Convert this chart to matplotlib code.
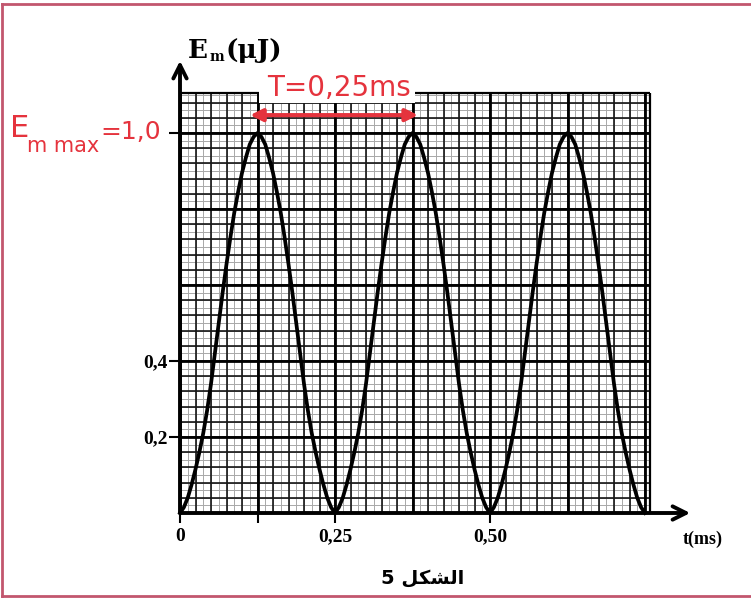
import numpy as np
import matplotlib.pyplot as plt
from matplotlib.patches import Rectangle
from matplotlib.lines import Line2D

# valeurs : une montee de 0 a Em max (pas de 0,00625 ms)
em_montee = [0.00, 0.015, 0.04, 0.075, 0.115, 0.16, 0.21, 0.27, 0.34, 0.42, 0.50,
             0.58, 0.655, 0.725, 0.79, 0.845, 0.895, 0.935, 0.97, 0.99, 1.00]
em_periode = em_montee + em_montee[-2::-1]
em = em_periode[:-1] * 3 + [0.0]
t = [i * 0.00625 for i in range(len(em))]

xticks = [0, 0.125, 0.25, 0.5]
xlabels = ['0', '', '0,25', '0,50']
yticks = [0.2, 0.4, 1.0]
ylabels = ['0,2', '0,4', '']

rouge = '#e5333d'
W, H = 751, 600

def px(x, y):
    return x / W, 1 - y / H

fig = plt.figure(figsize=(W / 100, H / 100), dpi=100)
ax = fig.add_axes([180 / W, 87 / H, 520 / W, 458 / H])
ax.set_xlim(0, 520 / 620)
ax.set_ylim(0, 458 / 380)
for s in ax.spines.values():
    s.set_visible(False)

# papier millimetre
xmax, ymax = 0.758, 1.105
ax.vlines(np.arange(0, xmax, 0.0125), 0, ymax, color='#a8a8a8', lw=0.7, zorder=1)
ax.hlines(np.arange(0, ymax, 0.02), 0, xmax, color='#a8a8a8', lw=0.7, zorder=1)
ax.vlines(np.arange(0, xmax, 0.025), 0, ymax, color='#151515', lw=1.2, zorder=1)
ax.hlines(np.arange(0, ymax, 0.04), 0, xmax, color='#151515', lw=1.2, zorder=1)
ax.vlines(np.arange(0, xmax, 0.125), 0, ymax, color='black', lw=2.0, zorder=1)
ax.hlines(np.arange(0, ymax, 0.2), 0, xmax, color='black', lw=2.0, zorder=1)
ax.vlines([xmax], 0, ymax, color='black', lw=1.6, zorder=1)
ax.hlines([ymax], 0, xmax, color='black', lw=1.6, zorder=1)
# cache blanc sous T=0,25ms
ax.add_patch(Rectangle((0.127, 1.079), 0.252, 0.08, facecolor='white',
                       edgecolor='none', zorder=2, clip_on=False))

ax.plot(t, em, color='black', lw=2.7, zorder=4, clip_on=False,
        solid_joinstyle='round')

# axes avec fleches
ax.annotate('', xy=(0, 1.19), xytext=(0, 0),
            arrowprops=dict(arrowstyle='->', lw=2.8, color='black',
                            mutation_scale=24, shrinkA=0, shrinkB=0), zorder=5)
ax.annotate('', xy=(0.823, 0), xytext=(0, 0),
            arrowprops=dict(arrowstyle='->', lw=2.8, color='black',
                            mutation_scale=24, shrinkA=0, shrinkB=0), zorder=5)

ax.set_xticks(xticks, xlabels, family='Liberation Serif', fontweight='bold', fontsize=14)
ax.set_yticks(yticks, ylabels, family='Liberation Serif', fontweight='bold', fontsize=14)
ax.tick_params(axis='x', direction='out', length=7, width=1.5, pad=4)
ax.tick_params(axis='y', direction='out', length=8, width=1.5, pad=1)

# periode
ax.annotate('', xy=(0.384, 1.047), xytext=(0.113, 1.047),
            arrowprops=dict(arrowstyle='<|-|>', lw=3, color=rouge,
                            mutation_scale=18, shrinkA=0, shrinkB=0), zorder=6)
fig.text(*px(339, 96), 'T=0,25ms', color=rouge, fontsize=20, ha='center',
         va='baseline', family='DejaVu Sans')

fig.text(*px(10, 137), 'E', color=rouge, fontsize=22, va='baseline', family='DejaVu Sans')
fig.text(*px(27, 152), 'm max', color=rouge, fontsize=15, va='baseline', family='DejaVu Sans')
fig.text(*px(100, 139), '=1,0', color=rouge, fontsize=18, va='baseline', family='DejaVu Sans')

serif = dict(family='DejaVu Serif', fontweight='bold', va='baseline')
fig.text(*px(188, 58), 'E', fontsize=19, **serif)
fig.text(*px(210, 61), 'm', fontsize=10, **serif)
fig.text(*px(226, 58), '(\u03bcJ)', fontsize=19, **serif)
fig.text(*px(683, 544), 't(ms)', fontsize=13, family='Liberation Serif',
         fontweight='bold', va='baseline')

# "الشكل 5" en formes de presentation (ordre visuel)
fig.text(*px(423, 578), '5 \ufede\ufedc\ufeb8\ufedf\ufe8d', fontsize=14,
         fontweight='bold', family=['DejaVu Sans'], ha='center', va='center')

cadre = '#c2566e'
fig.add_artist(Line2D([2 / W, 2 / W], [1 - 4 / H, 1 - 596 / H], color=cadre, lw=2))
fig.add_artist(Line2D([2 / W, 1], [1 - 4 / H, 1 - 4 / H], color=cadre, lw=2))
fig.add_artist(Line2D([2 / W, 1], [1 - 596 / H, 1 - 596 / H], color=cadre, lw=2))

fig.savefig('out.png', dpi=100)
